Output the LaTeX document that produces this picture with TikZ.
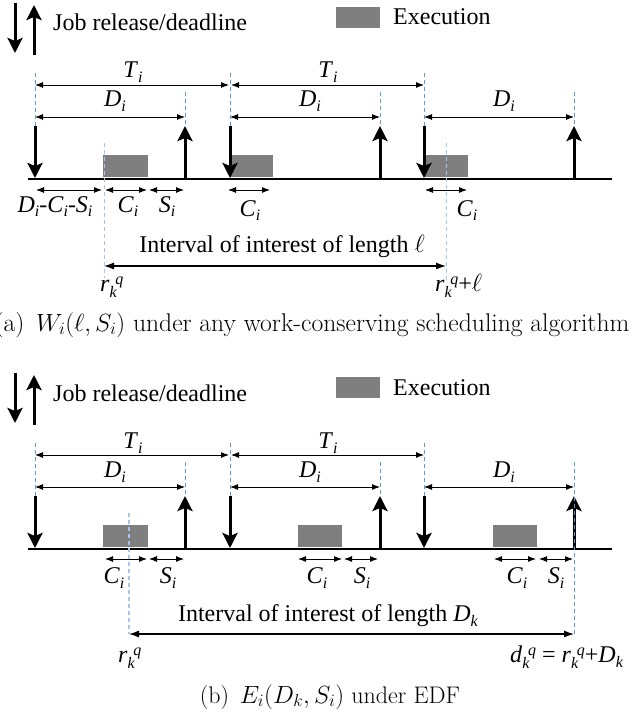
\documentclass[tikz,border=0pt]{standalone}
\usepackage{fontspec}
\setmainfont{Liberation Serif}
\newfontfamily\capfont{Latin Modern Roman}
\usetikzlibrary{arrows.meta}
\definecolor{execgray}{HTML}{7F7F7F}
\definecolor{dashblue}{HTML}{5B9BD5}
\definecolor{lightblue}{HTML}{A4C6E8}
\newcommand{\sbs}[2]{\textit{#1}\raisebox{-5pt}{\fontsize{16}{16}\selectfont\textit{#2}}}
\newcommand{\rkq}[1]{\textit{#1}\raisebox{-6pt}{\fontsize{16}{16}\selectfont\textit{k}}\kern-1.5pt\raisebox{7pt}{\fontsize{16}{16}\selectfont\textit{q}}}
\tikzset{
  lbl/.style={font=\fontsize{24}{28}\selectfont, inner sep=0pt, anchor=base},
  lblw/.style={lbl, anchor=base west},
  capt/.style={font=\capfont\fontsize{24}{28}\selectfont, inner sep=0pt, anchor=base},
  bigarrow/.style={line width=3pt, -{Stealth[length=15pt,width=15pt,inset=3pt]}},
  dimarrow/.style={line width=0.9pt, {Latex[length=8pt,width=6pt]}-{Latex[length=8pt,width=6pt]}},
  intarrow/.style={line width=1.1pt, {Latex[length=10pt,width=7pt]}-{Latex[length=10pt,width=7pt]}},
  axisline/.style={line width=2.5pt},
  execbox/.style={fill=execgray, draw=none},
  markline/.style={dashblue, line width=0.8pt, dash pattern=on 4pt off 3pt},
  refline/.style={lightblue, line width=0.9pt, dash pattern=on 4pt off 3pt},
}
\begin{document}
\begin{tikzpicture}[x=1pt,y=-1pt]
\useasboundingbox[fill=white] (0,0) rectangle (641,719);

% ---------- common parts of both panels ----------
\foreach \p/\dy in {a/0,b/370}{
  % legend
  \draw[bigarrow] (15,\dy+3) -- (15,\dy+53);
  \draw[bigarrow] (34,\dy+55) -- (34,\dy+5);
  \node[lblw] (job\p) at (53,\dy+31) {Job release/deadline};
  \fill[execbox] (336,\dy+7) rectangle (380,\dy+28);
  \node[lblw] (exe\p) at (393,\dy+25) {Execution};
  % period and deadline dimensions
  \draw[dimarrow] (35,\dy+85) -- (229,\dy+85);
  \draw[dimarrow] (231,\dy+85) -- (424,\dy+85);
  \node[lbl] (ta\p) at (133,\dy+78) {\sbs{T}{i}};
  \node[lbl] (tb\p) at (328,\dy+78) {\sbs{T}{i}};
  \draw[dimarrow] (35,\dy+117) -- (185,\dy+117);
  \draw[dimarrow] (230,\dy+117) -- (380,\dy+117);
  \draw[dimarrow] (424,\dy+117) -- (574,\dy+117);
  \node[lbl] (da\p) at (115,\dy+107) {\sbs{D}{i}};
  \node[lbl] (db\p) at (310,\dy+107) {\sbs{D}{i}};
  \node[lbl] (dc\p) at (504,\dy+107) {\sbs{D}{i}};
  % release / deadline marks
  \foreach \x in {35,230,424}{
    \draw[markline] (\x,\dy+73) -- (\x,\dy+126);
  }
  \foreach \x in {185,380,574}{
    \draw[markline] (\x,\dy+92) -- (\x,\dy+126);
  }
}

% ---------- panel (a) ----------
\fill[execbox] (103,155) rectangle (148,177);
\fill[execbox] (230,155) rectangle (273,177);
\fill[execbox] (424,155) rectangle (468,177);
\draw[axisline] (28,179) -- (612,179);
\foreach \x in {35,230,424}{ \draw[bigarrow] (\x,126) -- (\x,178); }
\foreach \x in {185,380,574}{ \draw[bigarrow] (\x,179) -- (\x,126); }

\draw[dimarrow] (36,190) -- (102,190);
\draw[dimarrow] (105,190) -- (147,190);
\draw[dimarrow] (149,190) -- (184,190);
\draw[dimarrow] (228,190) -- (270,190);
\draw[dimarrow] (425,190) -- (467,190);
\node[lbl] (dcs) at (55,212) {\sbs{D}{i}-\sbs{C}{i}-\sbs{S}{i}};
\node[lbl] (ca1) at (128,212) {\sbs{C}{i}};
\node[lbl] (sa1) at (167,212) {\sbs{S}{i}};
\node[lbl] (ca2) at (250,216) {\sbs{C}{i}};
\node[lbl] (ca3) at (467,216) {\sbs{C}{i}};

\node[lbl] (inta) at (282,252) {Interval of interest of length $\ell$};
\draw[intarrow] (104,266) -- (446,266);
\node[lblw] (rka) at (100,291) {\rkq{r}};
\node[lblw] (rkla) at (435,291) {\rkq{r}+$\ell$};
\draw[refline] (104,143) -- (104,278);
\draw[refline] (446,143) -- (446,283);

\node[capt, font=\capfont\fontsize{25.6}{30}\selectfont] (capa) at (312,331) {(a)\hspace{0.45em}$W_i(\ell, S_i)$ under any work-conserving scheduling algorithm};

% ---------- panel (b) ----------
\fill[execbox] (103,525) rectangle (148,547);
\fill[execbox] (298,525) rectangle (342,547);
\fill[execbox] (493,525) rectangle (537,547);
\draw[axisline] (28,549) -- (612,549);
\foreach \x in {35,230,424}{ \draw[bigarrow] (\x,496) -- (\x,548); }
\foreach \x in {185,380,574}{ \draw[bigarrow] (\x,549) -- (\x,496); }

\draw[dimarrow] (105,559) -- (147,559);
\draw[dimarrow] (149,559) -- (184,559);
\draw[dimarrow] (298,559) -- (342,559);
\draw[dimarrow] (344,559) -- (378,559);
\draw[dimarrow] (494,559) -- (536,559);
\draw[dimarrow] (539,559) -- (573,559);
\node[lbl] (cb1) at (114,583) {\sbs{C}{i}};
\node[lbl] (sb1) at (168,583) {\sbs{S}{i}};
\node[lbl] (cb2) at (317,583) {\sbs{C}{i}};
\node[lbl] (sb2) at (362,583) {\sbs{S}{i}};
\node[lbl] (cb3) at (517,583) {\sbs{C}{i}};
\node[lbl] (sb3) at (556,583) {\sbs{S}{i}};

\node[lbl] (intb) at (328,621) {Interval of interest of length \sbs{D}{k}};
\draw[intarrow] (129,634) -- (574,634);
\node[lblw] (rkb) at (118,662) {\rkq{r}};
\node[lblw] (dkb) at (510,662) {\rkq{d} = \rkq{r}+\sbs{D}{k}};
\draw[refline, line width=1.6pt] (129,513) -- (129,634);
\draw[markline] (574,462) -- (574,635);

\node[capt] (capb) at (330,703) {(b)\hspace{0.45em}$E_i(D_k, S_i)$ under EDF};
\end{tikzpicture}
\end{document}
